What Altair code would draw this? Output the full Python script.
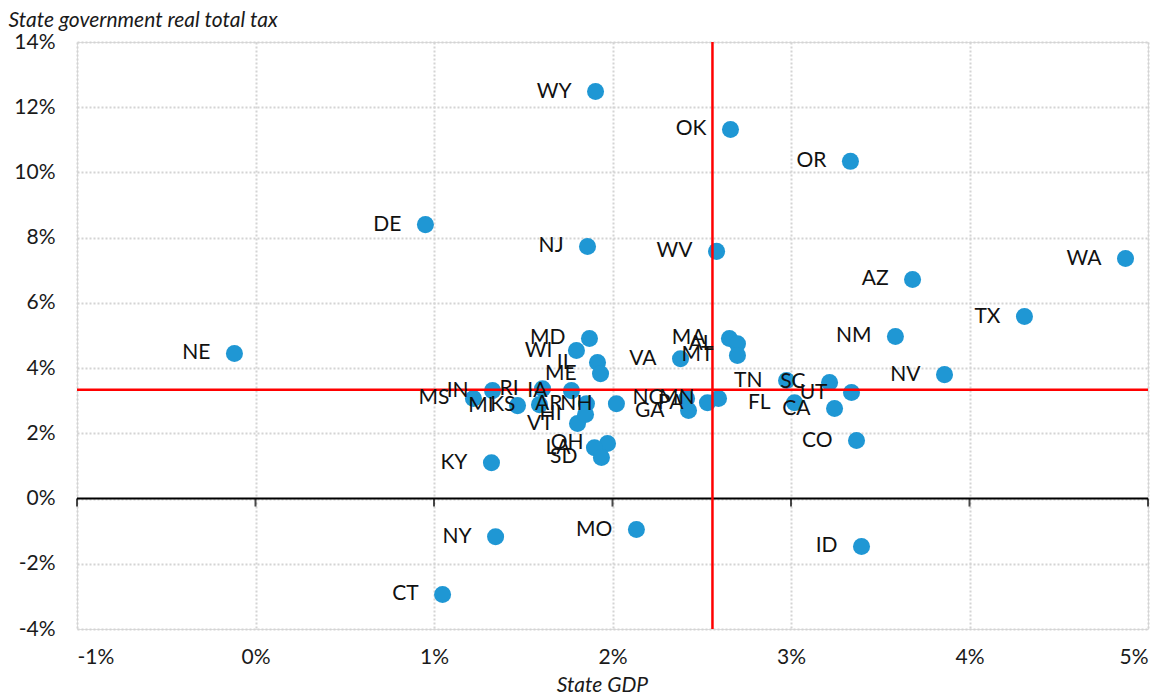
import altair as alt
import pandas as pd

states = ["WY","OK","OR","DE","NJ","WV","WA","AZ","TX","NM","NE","NV","MD","WI","IL","ME","VA",
          "MA","AL","MT","TN","SC","UT","FL","CA","CO","MS","IN","MI","KS","RI","IA","AR","NH",
          "VT","HI","NC","GA","PA","MN","OH","LA","SD","KY","NY","MO","ID","CT"]
gdp = [1.905,2.661,3.333,0.952,1.860,2.583,4.874,3.681,4.308,3.585,-0.118,3.860,1.871,1.798,1.916,1.933,2.381,
       2.655,2.700,2.700,2.975,3.216,3.339,3.020,3.244,3.367,1.221,1.328,1.468,1.591,1.608,1.770,1.854,2.022,
       1.804,1.849,2.415,2.426,2.532,2.594,1.972,1.899,1.938,1.322,1.345,2.134,3.395,1.048]
tax = [12.48,11.32,10.34,8.40,7.73,7.58,7.36,6.72,5.58,4.97,4.45,3.80,4.91,4.54,4.17,3.83,4.29,
       4.91,4.75,4.39,3.62,3.56,3.25,2.94,2.76,1.78,3.07,3.31,2.85,2.88,3.37,3.31,2.91,2.91,
       2.30,2.58,3.07,2.70,2.94,3.07,1.69,1.56,1.26,1.10,-1.17,-0.95,-1.47,-2.94]
avg_gdp = 2.56
avg_tax = 3.34
x_ticks = [-1, 0, 1, 2, 3, 4, 5]
y_ticks = [-4, -2, 0, 2, 4, 6, 8, 10, 12, 14]

df = pd.DataFrame({"state": states, "gdp": gdp, "tax": tax})

FONT = "Lato"
FS = 21
xenc = alt.X("gdp:Q", scale=alt.Scale(domain=[-1, 5], nice=False, zero=False),
             axis=alt.Axis(values=x_ticks, labelExpr="datum.value + '%'", title="State GDP",
                           grid=True, gridDash=[2, 2], gridColor="#d4d4d4", gridWidth=2,
                           domain=False, ticks=False, labelPadding=17, labelFontSize=FS,
                           labelFont=FONT, labelColor="#1a1a1a", titleFont=FONT,
                           titleFontSize=FS, titleFontStyle="italic", titleFontWeight="normal",
                           titleColor="#1a1a1a", titleX=525, titleY=56, titleBaseline="middle"))
yenc = alt.Y("tax:Q", scale=alt.Scale(domain=[-4, 14], nice=False, zero=False),
             axis=alt.Axis(values=y_ticks, labelExpr="datum.value + '%'",
                           title="State government real total tax",
                           grid=True, gridDash=[2, 2], gridColor="#d4d4d4", gridWidth=2,
                           domain=False, ticks=False, labelPadding=22, labelFontSize=FS,
                           labelFont=FONT, labelColor="#1a1a1a", titleFont=FONT,
                           titleFontSize=FS, titleFontStyle="italic", titleFontWeight="normal",
                           titleColor="#1a1a1a", titleAngle=0, titleAlign="left",
                           titleX=-69, titleY=-33, titleBaseline="top"))

zero_line = alt.Chart(pd.DataFrame({"tax": [0]})).mark_rule(color="black", strokeWidth=2).encode(y=yenc)
zero_ticks = alt.Chart(pd.DataFrame({"gdp": x_ticks, "tax": [0] * len(x_ticks)})).mark_tick(
    orient="vertical", color="black", size=8, thickness=2, yOffset=4).encode(x=xenc, y=yenc)
points = alt.Chart(df).mark_circle(size=290, opacity=1, color="#1f97d4").encode(x=xenc, y=yenc)
vline = alt.Chart(pd.DataFrame({"gdp": [avg_gdp]})).mark_rule(color="#ff0000", strokeWidth=2.5).encode(x=xenc)
hline = alt.Chart(pd.DataFrame({"tax": [avg_tax]})).mark_rule(color="#ff0000", strokeWidth=2.5).encode(y=yenc)
labels = alt.Chart(df).mark_text(align="right", baseline="middle", dx=-24, fontSize=FS,
                                 font=FONT, color="#111111").encode(x=xenc, y=yenc, text="state:N")

chart = alt.layer(zero_line, zero_ticks, points, vline, hline, labels).properties(
    width=1071, height=587,
    autosize=alt.AutoSizeParams(type="none"),
    padding={"left": 69, "top": 34, "right": 14, "bottom": 70},
).configure_view(stroke=None).configure(background="white")

chart.save("out.html", embed_options={"renderer": "svg", "actions": False})
